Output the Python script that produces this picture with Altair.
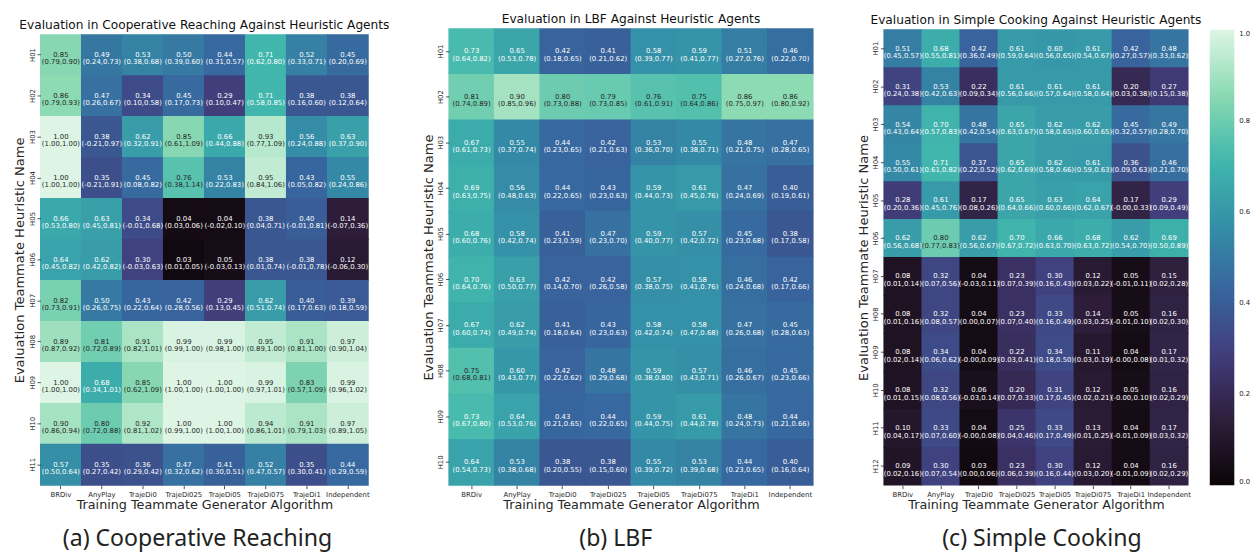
import altair as alt
import pandas as pd

ALGOS = ["BRDiv", "AnyPlay", "TrajeDi0", "TrajeDi025", "TrajeDi05", "TrajeDi075", "TrajeDi1", "Independent"]

# ---- (a) Cooperative Reaching: mean, CI low, CI high (rows H01..H11) ----
coop_mean = [
    [0.85, 0.49, 0.53, 0.50, 0.44, 0.71, 0.52, 0.45],
    [0.86, 0.47, 0.34, 0.45, 0.29, 0.71, 0.38, 0.38],
    [1.00, 0.38, 0.62, 0.85, 0.66, 0.93, 0.56, 0.63],
    [1.00, 0.35, 0.45, 0.76, 0.53, 0.95, 0.43, 0.55],
    [0.66, 0.63, 0.34, 0.04, 0.04, 0.38, 0.40, 0.14],
    [0.64, 0.62, 0.30, 0.03, 0.05, 0.38, 0.38, 0.12],
    [0.82, 0.50, 0.43, 0.42, 0.29, 0.62, 0.40, 0.39],
    [0.89, 0.81, 0.91, 0.99, 0.99, 0.95, 0.91, 0.97],
    [1.00, 0.68, 0.85, 1.00, 1.00, 0.99, 0.83, 0.99],
    [0.90, 0.80, 0.92, 1.00, 1.00, 0.94, 0.91, 0.97],
    [0.57, 0.35, 0.36, 0.47, 0.41, 0.52, 0.35, 0.44],
]
coop_lo = [
    [0.79, 0.24, 0.38, 0.39, 0.31, 0.62, 0.33, 0.20],
    [0.79, 0.26, 0.10, 0.17, 0.10, 0.58, 0.16, 0.12],
    [1.00, -0.21, 0.32, 0.61, 0.44, 0.77, 0.24, 0.37],
    [1.00, -0.21, 0.08, 0.38, 0.22, 0.84, 0.05, 0.24],
    [0.53, 0.45, -0.01, 0.03, -0.02, 0.04, -0.01, -0.07],
    [0.45, 0.42, -0.03, 0.01, -0.03, 0.01, -0.01, -0.06],
    [0.73, 0.26, 0.22, 0.28, 0.13, 0.51, 0.17, 0.18],
    [0.87, 0.72, 0.82, 0.99, 0.98, 0.89, 0.81, 0.90],
    [1.00, 0.34, 0.62, 1.00, 1.00, 0.97, 0.57, 0.96],
    [0.86, 0.72, 0.81, 0.99, 1.00, 0.86, 0.79, 0.89],
    [0.50, 0.27, 0.29, 0.32, 0.30, 0.47, 0.30, 0.29],
]
coop_hi = [
    [0.90, 0.73, 0.68, 0.60, 0.57, 0.80, 0.71, 0.69],
    [0.93, 0.67, 0.58, 0.73, 0.47, 0.85, 0.60, 0.64],
    [1.00, 0.97, 0.91, 1.09, 0.88, 1.09, 0.88, 0.90],
    [1.00, 0.91, 0.82, 1.14, 0.83, 1.06, 0.82, 0.86],
    [0.80, 0.81, 0.68, 0.06, 0.10, 0.71, 0.81, 0.36],
    [0.82, 0.82, 0.63, 0.05, 0.13, 0.74, 0.78, 0.30],
    [0.91, 0.75, 0.64, 0.56, 0.45, 0.74, 0.63, 0.59],
    [0.92, 0.89, 1.01, 1.00, 1.00, 1.00, 1.00, 1.04],
    [1.00, 1.01, 1.09, 1.00, 1.00, 1.01, 1.09, 1.02],
    [0.94, 0.88, 1.02, 1.00, 1.00, 1.01, 1.03, 1.05],
    [0.64, 0.42, 0.42, 0.62, 0.51, 0.57, 0.41, 0.59],
]

# ---- (b) LBF (rows H01..H10) ----
lbf_mean = [
    [0.73, 0.65, 0.42, 0.41, 0.58, 0.59, 0.51, 0.46],
    [0.81, 0.90, 0.80, 0.79, 0.76, 0.75, 0.86, 0.86],
    [0.67, 0.55, 0.44, 0.42, 0.53, 0.55, 0.48, 0.47],
    [0.69, 0.56, 0.44, 0.43, 0.59, 0.61, 0.47, 0.40],
    [0.68, 0.58, 0.41, 0.47, 0.59, 0.57, 0.45, 0.38],
    [0.70, 0.63, 0.42, 0.42, 0.57, 0.58, 0.46, 0.42],
    [0.67, 0.62, 0.41, 0.43, 0.58, 0.58, 0.47, 0.45],
    [0.75, 0.60, 0.42, 0.48, 0.59, 0.57, 0.46, 0.45],
    [0.73, 0.64, 0.43, 0.44, 0.59, 0.61, 0.48, 0.44],
    [0.64, 0.53, 0.38, 0.38, 0.55, 0.53, 0.44, 0.40],
]
lbf_lo = [
    [0.64, 0.53, 0.18, 0.21, 0.39, 0.41, 0.27, 0.22],
    [0.74, 0.85, 0.73, 0.73, 0.61, 0.64, 0.75, 0.80],
    [0.61, 0.37, 0.23, 0.21, 0.36, 0.38, 0.21, 0.28],
    [0.63, 0.48, 0.22, 0.23, 0.44, 0.45, 0.24, 0.19],
    [0.60, 0.42, 0.23, 0.23, 0.40, 0.42, 0.23, 0.17],
    [0.64, 0.50, 0.14, 0.26, 0.38, 0.41, 0.24, 0.17],
    [0.60, 0.49, 0.18, 0.23, 0.42, 0.47, 0.26, 0.28],
    [0.68, 0.43, 0.22, 0.29, 0.38, 0.43, 0.26, 0.23],
    [0.67, 0.53, 0.21, 0.22, 0.44, 0.44, 0.24, 0.21],
    [0.54, 0.38, 0.20, 0.15, 0.39, 0.39, 0.23, 0.16],
]
lbf_hi = [
    [0.82, 0.78, 0.65, 0.62, 0.77, 0.77, 0.76, 0.70],
    [0.89, 0.96, 0.88, 0.85, 0.91, 0.86, 0.97, 0.92],
    [0.73, 0.74, 0.65, 0.63, 0.70, 0.71, 0.75, 0.65],
    [0.75, 0.63, 0.65, 0.63, 0.73, 0.76, 0.69, 0.61],
    [0.76, 0.74, 0.59, 0.70, 0.77, 0.72, 0.68, 0.58],
    [0.76, 0.77, 0.70, 0.58, 0.75, 0.76, 0.68, 0.66],
    [0.74, 0.74, 0.64, 0.63, 0.74, 0.68, 0.68, 0.63],
    [0.81, 0.77, 0.62, 0.68, 0.80, 0.71, 0.67, 0.66],
    [0.80, 0.76, 0.65, 0.65, 0.75, 0.78, 0.73, 0.66],
    [0.73, 0.68, 0.55, 0.60, 0.72, 0.68, 0.65, 0.64],
]

# ---- (c) Simple Cooking (rows H01..H12) ----
cook_mean = [
    [0.51, 0.68, 0.42, 0.61, 0.60, 0.61, 0.42, 0.48],
    [0.31, 0.53, 0.22, 0.61, 0.61, 0.61, 0.20, 0.27],
    [0.54, 0.70, 0.48, 0.65, 0.62, 0.62, 0.45, 0.49],
    [0.55, 0.71, 0.37, 0.65, 0.62, 0.61, 0.36, 0.46],
    [0.28, 0.61, 0.17, 0.65, 0.63, 0.64, 0.17, 0.29],
    [0.62, 0.80, 0.62, 0.70, 0.66, 0.68, 0.62, 0.69],
    [0.08, 0.32, 0.04, 0.23, 0.30, 0.12, 0.05, 0.15],
    [0.08, 0.32, 0.04, 0.23, 0.33, 0.14, 0.05, 0.16],
    [0.08, 0.34, 0.04, 0.22, 0.34, 0.11, 0.04, 0.17],
    [0.08, 0.32, 0.06, 0.20, 0.31, 0.12, 0.05, 0.16],
    [0.10, 0.33, 0.04, 0.25, 0.33, 0.13, 0.04, 0.17],
    [0.09, 0.30, 0.03, 0.23, 0.30, 0.12, 0.04, 0.16],
]
cook_lo = [
    [0.45, 0.55, 0.36, 0.59, 0.56, 0.54, 0.27, 0.33],
    [0.24, 0.42, 0.09, 0.56, 0.57, 0.58, 0.03, 0.15],
    [0.43, 0.57, 0.42, 0.63, 0.58, 0.60, 0.32, 0.28],
    [0.50, 0.61, 0.22, 0.62, 0.58, 0.59, 0.09, 0.21],
    [0.20, 0.45, 0.08, 0.64, 0.60, 0.62, -0.0, 0.09],
    [0.56, 0.77, 0.56, 0.67, 0.63, 0.63, 0.54, 0.50],
    [0.01, 0.07, -0.03, 0.07, 0.16, 0.03, -0.01, 0.02],
    [0.01, 0.08, 0.00, 0.07, 0.16, 0.03, -0.01, 0.02],
    [0.02, 0.06, -0.0, 0.03, 0.18, 0.03, -0.0, 0.01],
    [0.01, 0.08, -0.03, 0.07, 0.17, 0.02, -0.0, 0.02],
    [0.04, 0.07, -0.0, 0.04, 0.17, 0.01, -0.01, 0.03],
    [0.02, 0.07, 0.00, 0.06, 0.16, 0.03, -0.01, 0.02],
]
cook_hi = [
    [0.57, 0.81, 0.49, 0.64, 0.65, 0.67, 0.57, 0.62],
    [0.38, 0.63, 0.34, 0.66, 0.64, 0.64, 0.38, 0.38],
    [0.64, 0.83, 0.54, 0.67, 0.65, 0.65, 0.57, 0.70],
    [0.61, 0.82, 0.52, 0.69, 0.66, 0.63, 0.63, 0.70],
    [0.36, 0.76, 0.26, 0.66, 0.66, 0.67, 0.33, 0.49],
    [0.68, 0.83, 0.67, 0.72, 0.70, 0.72, 0.70, 0.89],
    [0.14, 0.56, 0.11, 0.39, 0.43, 0.22, 0.11, 0.28],
    [0.16, 0.57, 0.07, 0.40, 0.49, 0.25, 0.10, 0.30],
    [0.14, 0.62, 0.09, 0.41, 0.50, 0.19, 0.08, 0.32],
    [0.15, 0.56, 0.14, 0.33, 0.45, 0.21, 0.10, 0.29],
    [0.17, 0.60, 0.08, 0.46, 0.49, 0.25, 0.09, 0.32],
    [0.16, 0.54, 0.06, 0.39, 0.44, 0.20, 0.09, 0.29],
]

# seaborn "mako" colormap stops
MAKO_STOPS = [0.0, 1 / 7, 2 / 7, 3 / 7, 4 / 7, 5 / 7, 6 / 7, 1.0]
MAKO_COLORS = ["#0b0405", "#2e1e3b", "#413d7b", "#37659e", "#348fa7", "#40b7ad", "#8bdab2", "#def5e5"]

FONT = "DejaVu Sans"


def make_df(mean, lo, hi):
    rows = []
    for i, (mr, lr, hr) in enumerate(zip(mean, lo, hi)):
        h = f"H{i + 1:02d}"
        for a, m, l, u in zip(ALGOS, mr, lr, hr):
            rows.append(dict(algo=a, heur=h, val=m, label=f"{m:.2f}\n({l:.2f},{u:.2f})"))
    return pd.DataFrame(rows)


def mako():
    return alt.Scale(domain=MAKO_STOPS, range=MAKO_COLORS, interpolate="rgb")


def panel(df, title, w, h, caption, cap_x, cap_y, top_shift=0, show_legend=False):
    heur = sorted(df["heur"].unique())
    yscale = alt.Scale(paddingInner=0, paddingOuter=0)
    if top_shift:
        yscale = alt.Scale(paddingInner=0, paddingOuter=0, range=[-top_shift, h])
    base = alt.Chart(df).encode(
        x=alt.X("algo:N", sort=ALGOS, title="Training Teammate Generator Algorithm",
                scale=alt.Scale(paddingInner=0, paddingOuter=0),
                axis=alt.Axis(labelAngle=0, labelFontSize=7, labelFont=FONT, labelColor="#262626",
                              tickSize=3.5, tickColor="#262626", tickWidth=0.8, domain=False,
                              labelPadding=1.5, titlePadding=2, titleFontSize=13, titleFont=FONT,
                              titleFontWeight="normal", titleColor="#262626")),
        y=alt.Y("heur:N", sort=heur, title="Evaluation Teammate Heuristic Name", scale=yscale,
                axis=alt.Axis(labelAngle=270, labelAlign="center", labelBaseline="bottom",
                              labelFontSize=7, labelFont=FONT, labelColor="#262626",
                              tickSize=3.5, tickColor="#262626", tickWidth=0.8, domain=False,
                              labelPadding=1.5, titlePadding=2, titleFontSize=13.3, titleFont=FONT,
                              titleFontWeight="normal", titleColor="#262626")),
    )
    legend = None
    if show_legend:
        legend = alt.Legend(title=None, type="gradient", orient="none", legendX=w + 22, legendY=-top_shift,
                            gradientLength=h + top_shift, gradientThickness=25,
                            values=[0, 0.2, 0.4, 0.6, 0.8, 1.0], format=".1f",
                            labelFontSize=7, labelFont=FONT, labelColor="#262626",
                            labelOffset=5, direction="vertical")
    rect = base.mark_rect(
        width=alt.RelativeBandSize(1.02), height=alt.RelativeBandSize(1.02)
    ).encode(
        color=alt.Color("val:Q", scale=mako(), legend=legend),
    )
    text = base.mark_text(fontSize=7, font=FONT, lineBreak="\n", lineHeight=7.5, baseline="middle").encode(
        text="label:N",
        color=alt.condition("datum.val >= 0.745", alt.value("#262626"), alt.value("#ffffff")),
    )
    cap = alt.Chart(pd.DataFrame({"t": [caption]})).mark_text(
        fontSize=23.5, font="Noto Sans", align="center", baseline="alphabetic", color="#222222"
    ).encode(text="t:N", x=alt.value(cap_x), y=alt.value(cap_y))
    return alt.layer(rect, text, cap).properties(
        width=w, height=h,
        title=alt.TitleParams(title, fontSize=12.4, font=FONT, fontWeight="normal", color="#111111",
                              anchor="middle", frame="group", offset=3),
    )


pa = panel(make_df(coop_mean, coop_lo, coop_hi), "Evaluation in Cooperative Reaching Against Heuristic Agents",
           334, 459, "(a) Cooperative Reaching", 160, 521)
pb = panel(make_df(lbf_mean, lbf_lo, lbf_hi), "Evaluation in LBF Against Heuristic Agents",
           371, 459, "(b) LBF", 170, 521, top_shift=6)
pc = panel(make_df(cook_mean, cook_lo, cook_hi), "Evaluation in Simple Cooking Against Heuristic Agents",
           310, 459, "(c) Simple Cooking", 161, 521, top_shift=5, show_legend=True)

chart = alt.hconcat(
    alt.hconcat(pa, pb, spacing=32).resolve_scale(color="independent"),
    pc, spacing=43,
).resolve_scale(color="independent").configure_view(stroke=None).properties(
    padding={"left": 5, "top": 0, "right": 0, "bottom": 0}
)

chart.save("out.html", embed_options={"renderer": "svg", "actions": False})
